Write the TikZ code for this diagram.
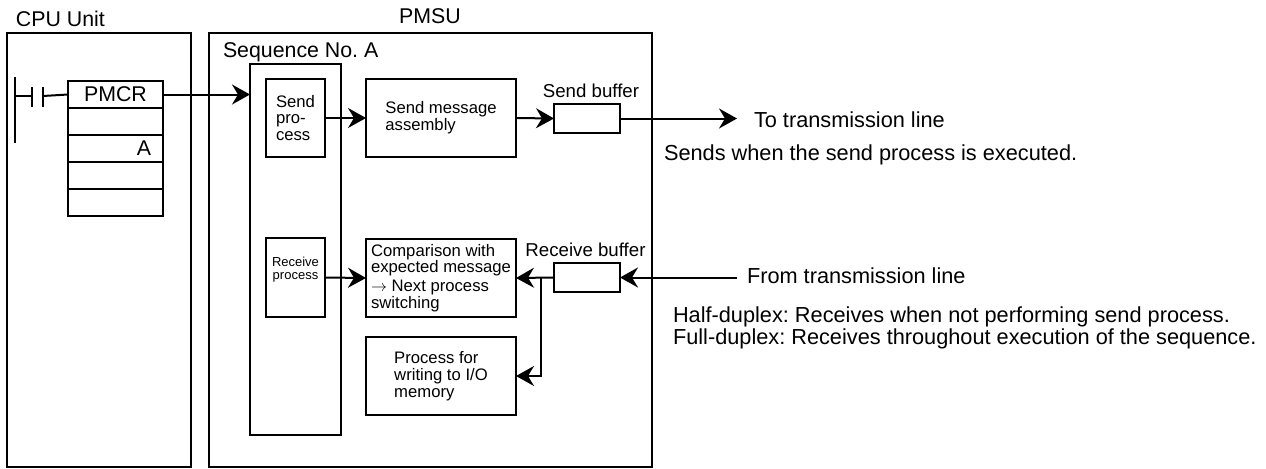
\documentclass[tikz,border=0pt]{standalone}
\usepackage{fontspec}
\setmainfont{Liberation Sans}
\usetikzlibrary{arrows.meta}
\newlength\pxl
\setlength\pxl{0.75pt}
\frenchspacing
\begin{document}
\begin{tikzpicture}[x=0.75pt, y=-0.75pt, line width=1.5pt,
      >={Stealth[length=13.5pt, width=15pt, inset=4.5pt]},
      blk/.style={draw, line width=1.6pt, inner sep=0pt, outer sep=0pt, align=left, font=\fontsize{12.5}{12.6}\selectfont},
      cell/.style={draw, line width=1.5pt, minimum width=95\pxl, minimum height=27\pxl, inner sep=0pt, outer sep=0pt},
      ttl/.style={inner sep=0pt, font=\fontsize{16}{18}\selectfont},
      buf/.style={inner sep=0pt, font=\fontsize{14}{16}\selectfont},
      minor/.style={inner sep=0pt, align=center, font=\fontsize{9.75}{9.75}\selectfont},
      note/.style={inner sep=0pt, align=left, font=\fontsize{16.3}{15}\selectfont}]
    \useasboundingbox (0,0) rectangle (1266,468);
    % frames
    \node[blk, minimum width=184\pxl, minimum height=434\pxl] (cpu) at (99,250) {};
    \node[blk, minimum width=443\pxl, minimum height=434\pxl] (pmsu) at (430.5,250) {};
    \node[blk, minimum width=91\pxl, minimum height=371\pxl] (seq) at (295.5,249.5) {};
    \node[ttl, anchor=base west] (cpulbl) at (15,26) {CPU Unit};
    \node[ttl, anchor=base] (pmsulbl) at (430,23) {PMSU};
    \node[ttl, anchor=base west] (seqlbl) at (222,57) {Sequence No. A};
    % ladder rung with PMCR
    \draw (15,77) -- (15,143);
    \draw (15,96) -- (32,96) (32,87) -- (32,107) (43,87) -- (43,107);
    \foreach \i in {1,...,5} {\node[cell] (r\i) at (115.5,67.5+27*\i) {};}
    \draw (43,96) -- (r1.west);
    \node[ttl] at (r1) {PMCR};
    \node[ttl, anchor=east] at ([xshift=-11\pxl]r3.east) {A};
    \draw[->] (r1.east) -- (r1.east -| seq.west);
    % send side
    \node[blk, minimum width=59\pxl, minimum height=78\pxl] (sndp) at (295.5,118) {Send\\pro-\\cess};
    \node[blk, minimum width=150\pxl, minimum height=78\pxl] (sasm) at (441,118) {Send message\\assembly};
    \node[blk, minimum width=66\pxl, minimum height=29\pxl] (sbuf) at (587,118.5) {};
    \node[buf, anchor=base] at (591,97) {Send buffer};
    \coordinate (txend) at (737,118.5);
    \node[note, anchor=base west] (totx) at (753,127) {To transmission line};
    \node[note, anchor=base west] (sendnote) at (663,160) {Sends when the send process is executed.};
    \draw[->] (sndp.east) -- (sasm.west);
    \draw[->] (sasm.east) -- (sbuf.west);
    \draw[->] (sbuf.east) -- (txend);
    % receive side
    \node[blk, minimum width=59\pxl, minimum height=79\pxl] (rcvp) at (295.5,277.5) {};
    \node[minor] at (295.5,269.5) {Receive\\process};
    \node[blk, minimum width=150\pxl, minimum height=78\pxl] (cmp) at (441,278) {Comparison with\\expected message\\[1.5pt]$\rightarrow$ Next process\\switching};
    \node[blk, minimum width=150\pxl, minimum height=78\pxl] (wrp) at (441,376) {Process for\\writing to I/O\\memory};
    \node[blk, minimum width=66\pxl, minimum height=29\pxl] (rbuf) at (587,277.5) {};
    \node[buf, anchor=base] at (585.5,256) {Receive buffer};
    \coordinate (rxbeg) at (737,277.5);
    \coordinate (br) at (541,277.5);
    \node[note, anchor=base west] (fromtx) at (746,283) {From transmission line};
    \node[note, anchor=base west] (dupnote) at (672,344) {Half-duplex: Receives when not performing send process.\\Full-duplex: Receives throughout execution of the sequence.};
    \draw[->] (rxbeg) -- (rbuf.east);
    \draw[->] (rbuf.west) -- (cmp.east);
    \draw[->] (rcvp.east) -- (cmp.west);
    \draw[->] (br) |- (wrp.east);
\end{tikzpicture}
\end{document}
